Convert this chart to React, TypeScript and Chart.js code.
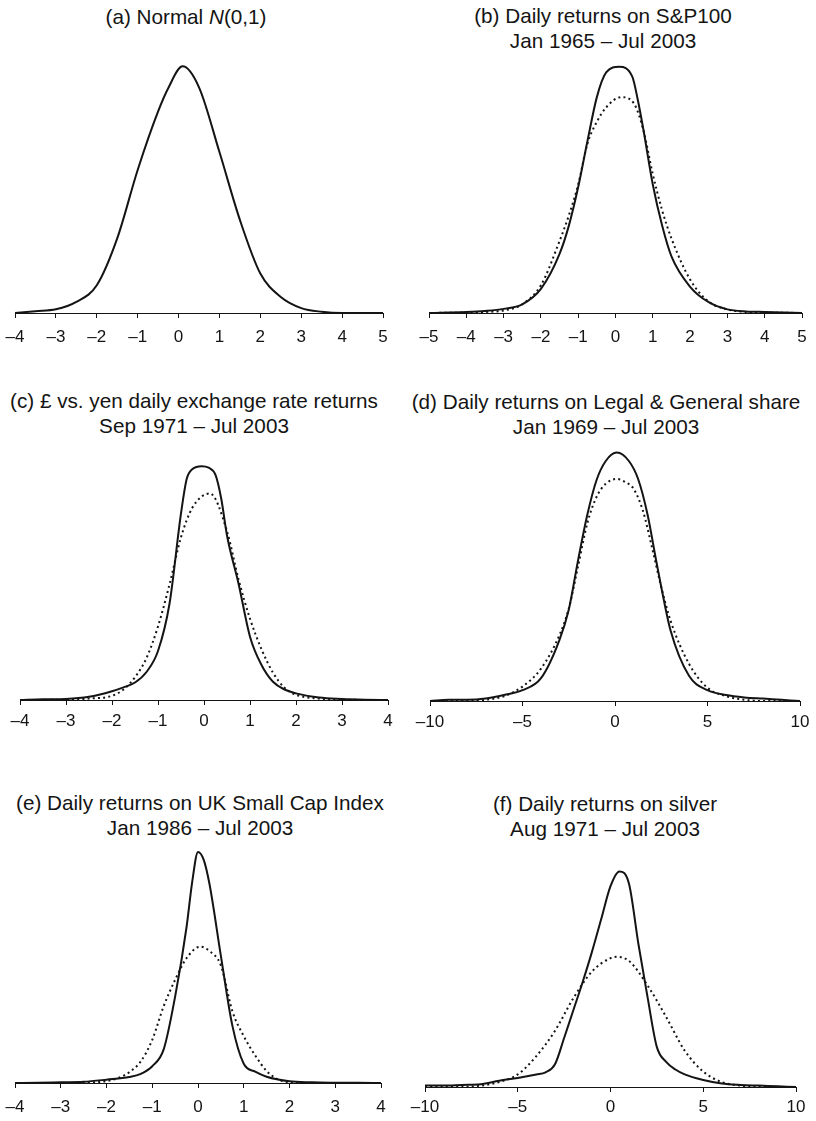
import React, { useEffect, useRef } from "react";
import { Chart, registerables } from "chart.js";

Chart.register(...registerables);

// ---------- data ----------
// (a) Normal N(0,1)
const A_X = [-4, -3.5, -3, -2.5, -2, -1.5, -1, -0.5, -0.25, 0.1, 0.5, 1, 1.5, 2, 2.5, 3, 3.5, 4, 4.5, 5];
const A_SOLID = [0, 0.003, 0.006, 0.018, 0.045, 0.121, 0.232, 0.327, 0.365, 0.4, 0.366, 0.261, 0.151, 0.064, 0.026, 0.008, 0.002, 0, 0, 0];
const A_TICKS = [-4, -3, -2, -1, 0, 1, 2, 3, 4, 5];

// (b) S&P100
const B_X = [-5, -4, -3.5, -3, -2.5, -2, -1.5, -1.25, -1, -0.75, -0.5, -0.25, 0.1, 0.45, 0.6, 0.75, 1, 1.25, 1.5, 2, 2.5, 3, 3.5, 4, 5];
const B_SOLID = [0, 0.002, 0.004, 0.008, 0.017, 0.047, 0.115, 0.17, 0.245, 0.335, 0.42, 0.468, 0.479, 0.46, 0.414, 0.356, 0.25, 0.17, 0.11, 0.051, 0.021, 0.007, 0.003, 0.002, 0];
const B_NX = [-5, -4, -3.5, -3, -2.5, -2, -1.5, -1.25, -1, -0.75, -0.5, -0.25, 0.15, 0.5, 0.75, 1, 1.25, 1.5, 2, 2.5, 3, 3.5, 4, 5];
const B_NORMAL = [0, 0.001, 0.002, 0.005, 0.017, 0.054, 0.14, 0.19, 0.25, 0.33, 0.372, 0.4, 0.42, 0.407, 0.355, 0.27, 0.2, 0.145, 0.065, 0.022, 0.007, 0.002, 0.001, 0];
const B_TICKS = [-5, -4, -3, -2, -1, 0, 1, 2, 3, 4, 5];

// (c) £ vs yen
const C_X = [-4, -3.5, -3, -2.5, -2, -1.75, -1.5, -1.25, -1, -0.75, -0.5, -0.375, -0.25, -0.05, 0.1, 0.25, 0.375, 0.5, 0.75, 1, 1.25, 1.5, 1.75, 2, 2.5, 3, 3.5, 4];
const C_SOLID = [0, 0.002, 0.003, 0.009, 0.025, 0.036, 0.05, 0.08, 0.14, 0.275, 0.533, 0.632, 0.66, 0.668, 0.664, 0.643, 0.575, 0.47, 0.333, 0.181, 0.1, 0.052, 0.03, 0.019, 0.007, 0.003, 0.001, 0];
const C_NX = [-4, -3, -2.5, -2, -1.75, -1.5, -1.25, -1, -0.75, -0.5, -0.25, 0.13, 0.5, 0.75, 1, 1.25, 1.5, 1.75, 2, 2.5, 3, 4];
const C_NORMAL = [0, 0.001, 0.004, 0.012, 0.03, 0.065, 0.12, 0.21, 0.33, 0.465, 0.55, 0.59, 0.482, 0.345, 0.232, 0.145, 0.078, 0.035, 0.015, 0.004, 0.001, 0];
const C_TICKS = [-4, -3, -2, -1, 0, 1, 2, 3, 4];

// (d) Legal & General
const D_X = [-10, -9, -8, -7, -6, -5, -4, -3, -2.5, -2, -1.5, -1, -0.5, 0.1, 0.75, 1.25, 1.75, 2.25, 2.5, 3, 4, 5, 6, 7, 8, 9, 10];
const D_SOLID = [0, 0.001, 0.001, 0.002, 0.005, 0.009, 0.019, 0.051, 0.076, 0.117, 0.155, 0.184, 0.2, 0.207, 0.2, 0.185, 0.156, 0.115, 0.095, 0.059, 0.021, 0.009, 0.005, 0.003, 0.002, 0.001, 0];
const D_NX = [-10, -9, -8, -7, -6, -5, -4, -3, -2.5, -2, -1.5, -1, -0.5, 0.1, 0.6, 1, 1.5, 2, 2.5, 3, 4, 5, 6, 7, 8, 9, 10];
const D_NORMAL = [0, 0, 0, 0.001, 0.004, 0.012, 0.027, 0.055, 0.077, 0.112, 0.148, 0.17, 0.181, 0.185, 0.182, 0.177, 0.159, 0.128, 0.095, 0.067, 0.031, 0.011, 0.004, 0.001, 0, 0, 0];
const D_TICKS = [-10, -5, 0, 5, 10];

// (e) UK Small Cap
const E_X = [-4, -3.5, -3, -2.5, -2, -1.5, -1.25, -1, -0.75, -0.5, -0.25, -0.125, 0, 0.125, 0.25, 0.5, 0.75, 1, 1.25, 1.5, 2, 2.5, 3, 3.5, 4];
const E_SOLID = [0, 0.001, 0.003, 0.005, 0.014, 0.025, 0.038, 0.07, 0.14, 0.36, 0.65, 0.84, 0.963, 0.93, 0.83, 0.53, 0.24, 0.08, 0.047, 0.026, 0.007, 0.003, 0.001, 0.001, 0];
const E_NX = [-4, -3, -2.5, -2, -1.75, -1.5, -1.25, -1, -0.75, -0.5, -0.25, 0.05, 0.25, 0.5, 0.75, 1, 1.25, 1.5, 1.75, 2, 2.5, 3, 4];
const E_NORMAL = [0, 0, 0.001, 0.008, 0.02, 0.045, 0.09, 0.18, 0.32, 0.43, 0.52, 0.568, 0.55, 0.49, 0.3, 0.195, 0.115, 0.05, 0.015, 0.003, 0, 0, 0];
const E_TICKS = [-4, -3, -2, -1, 0, 1, 2, 3, 4];

// (f) silver
const F_X = [-10, -9, -8, -7, -6, -5, -4, -3.5, -3, -2.5, -2, -1.5, -1, -0.5, 0, 0.475, 1, 1.5, 2, 2.5, 3, 3.5, 4, 5, 6, 7, 8, 9, 10];
const F_SOLID = [0.002, 0.002, 0.003, 0.004, 0.009, 0.013, 0.018, 0.021, 0.032, 0.07, 0.11, 0.15, 0.193, 0.24, 0.287, 0.308, 0.29, 0.205, 0.128, 0.057, 0.036, 0.025, 0.018, 0.01, 0.005, 0.003, 0.002, 0.001, 0];
const F_NX = [-10, -8, -7, -6, -5, -4, -3, -2, -1, 0, 0.35, 1, 2, 3, 4, 5, 6, 7, 8, 10];
const F_NORMAL = [0, 0, 0.002, 0.007, 0.018, 0.044, 0.08, 0.127, 0.165, 0.184, 0.186, 0.18, 0.145, 0.1, 0.052, 0.022, 0.007, 0.002, 0, 0];
const F_TICKS = [-10, -5, 0, 5, 10];

const TITLE_B = ["(b) Daily returns on S&P100", "Jan 1965 \u2013 Jul 2003"];
const TITLE_C = ["(c) \u00a3 vs. yen daily exchange rate returns", "Sep 1971 \u2013 Jul 2003"];
const TITLE_D = ["(d) Daily returns on Legal & General share", "Jan 1969 \u2013 Jul 2003"];
const TITLE_E = ["(e) Daily returns on UK Small Cap Index", "Jan 1986 \u2013 Jul 2003"];
const TITLE_F = ["(f) Daily returns on silver", "Aug 1971 \u2013 Jul 2003"];

// ---------- layout ----------
const FONT = "'Liberation Sans', Arial, Helvetica, sans-serif";
const INK = "#141414";
const PAD = 30;
const AXIS_H = 40;

type PanelDef = {
  sx: number[]; sy: number[]; nx?: number[]; ny?: number[];
  ticks: number[]; yMax: number;
  L: number; R: number; T: number; B: number; gap: number;
};

const PANELS: PanelDef[] = [
  { sx: A_X, sy: A_SOLID, ticks: A_TICKS, yMax: 0.42, L: 15, R: 383, T: 54, B: 313, gap: 9 },
  { sx: B_X, sy: B_SOLID, nx: B_NX, ny: B_NORMAL, ticks: B_TICKS, yMax: 0.5, L: 429, R: 802, T: 56, B: 313, gap: 9 },
  { sx: C_X, sy: C_SOLID, nx: C_NX, ny: C_NORMAL, ticks: C_TICKS, yMax: 0.72, L: 20, R: 388, T: 448, B: 700, gap: 6 },
  { sx: D_X, sy: D_SOLID, nx: D_NX, ny: D_NORMAL, ticks: D_TICKS, yMax: 0.22, L: 430, R: 800, T: 437, B: 701, gap: 6.5 },
  { sx: E_X, sy: E_SOLID, nx: E_NX, ny: E_NORMAL, ticks: E_TICKS, yMax: 1.0, L: 15, R: 381, T: 843, B: 1083, gap: 9 },
  { sx: F_X, sy: F_SOLID, nx: F_NX, ny: F_NORMAL, ticks: F_TICKS, yMax: 0.33, L: 425, R: 796, T: 856, B: 1087, gap: 5 },
];

const fmt = (v: number) => (v < 0 ? "\u2013" + Math.abs(v) : String(v));

function Panel({ p }: { p: PanelDef }) {
  const ref = useRef<HTMLCanvasElement>(null);
  const w = p.R - p.L + PAD * 2;
  const h = p.B - p.T + AXIS_H;
  useEffect(() => {
    if (!ref.current) return;
    const datasets: any[] = [
      {
        data: p.sx.map((x, i) => ({ x, y: p.sy[i] })),
        borderColor: INK, borderWidth: 2, pointRadius: 0, fill: false,
        cubicInterpolationMode: "monotone", clip: false,
      },
    ];
    if (p.nx && p.ny) {
      const ny = p.ny;
      datasets.push({
        data: p.nx.map((x, i) => ({ x, y: ny[i] })),
        borderColor: INK, borderWidth: 2, pointRadius: 0, fill: false,
        borderDash: [2, 3.2], cubicInterpolationMode: "monotone", clip: false,
      });
    }
    const xs = p.ticks;
    const chart = new Chart(ref.current, {
      type: "line",
      data: { datasets },
      options: {
        animation: false,
        responsive: false,
        maintainAspectRatio: false,
        events: [],
        layout: { padding: { left: PAD, right: PAD, top: 0, bottom: 0 } },
        plugins: { legend: { display: false }, tooltip: { enabled: false }, title: { display: false } },
        scales: {
          x: {
            type: "linear",
            min: xs[0],
            max: xs[xs.length - 1],
            afterBuildTicks: (s: any) => { s.ticks = xs.map((v) => ({ value: v })); },
            afterFit: (s: any) => { s.height = AXIS_H; },
            border: { display: true, color: INK, width: 1 },
            grid: { display: true, drawOnChartArea: false, drawTicks: true, tickLength: 5, color: INK, lineWidth: 1 },
            ticks: {
              color: INK, padding: p.gap, maxRotation: 0, autoSkip: false,
              font: { family: FONT, size: 17 },
              callback: (v: any) => fmt(Number(v)),
            },
          },
          y: { display: false, min: 0, max: p.yMax },
        },
      } as any,
    });
    return () => chart.destroy();
  }, []);
  return (
    <canvas
      ref={ref}
      width={w}
      height={h}
      style={{ position: "absolute", left: p.L - PAD, top: p.T, width: w, height: h }}
    />
  );
}

function Title({ cx, y, children }: { cx: number; y: number; children: React.ReactNode }) {
  return (
    <div
      style={{
        position: "absolute", left: cx - 240, width: 480, top: y - 12.5,
        textAlign: "center", fontFamily: FONT, fontSize: "20.7px", lineHeight: "25px",
        color: INK, whiteSpace: "nowrap",
      }}
    >
      {children}
    </div>
  );
}

function Lines({ t }: { t: string[] }) {
  return (
    <>
      {t.map((s, i) => (
        <div key={i}>{s}</div>
      ))}
    </>
  );
}

export default function App() {
  return (
    <div style={{ position: "absolute", left: 0, top: 0, width: 816, height: 1121, background: "#fff", overflow: "hidden" }}>
      <Title cx={186} y={16}>
        <div>(a) Normal <i>N</i>(0,1)</div>
      </Title>
      <Title cx={603} y={15}><Lines t={TITLE_B} /></Title>
      <Title cx={194} y={400}><Lines t={TITLE_C} /></Title>
      <Title cx={606} y={401}><Lines t={TITLE_D} /></Title>
      <Title cx={200} y={802}><Lines t={TITLE_E} /></Title>
      <Title cx={605} y={803}><Lines t={TITLE_F} /></Title>
      {PANELS.map((p, i) => (
        <Panel key={i} p={p} />
      ))}
    </div>
  );
}
